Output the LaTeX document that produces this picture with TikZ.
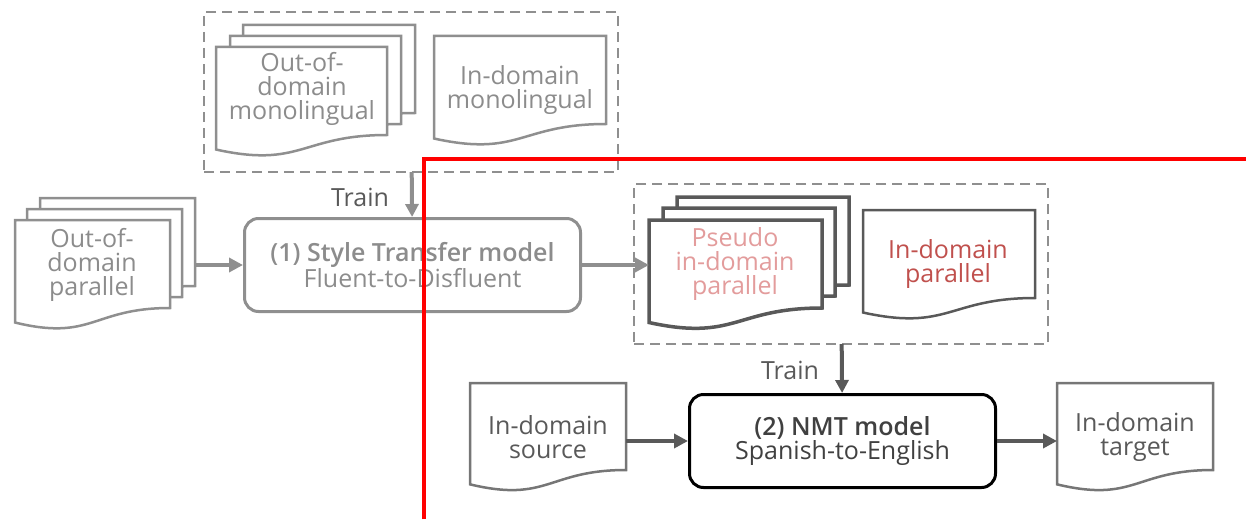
\documentclass[tikz,border=0pt]{standalone}
\usepackage{fontspec}
\setmainfont{Open Sans}[BoldFont={Open Sans Semibold}]
\usetikzlibrary{arrows.meta,calc}

\definecolor{lightln}{HTML}{8F8F8F}
\definecolor{lighttx}{HTML}{8C8C8C}
\definecolor{darkln}{HTML}{595959}
\definecolor{midln}{HTML}{767676}
\definecolor{pinktx}{HTML}{E39C9C}
\definecolor{redtx}{HTML}{C0504D}
\definecolor{bodytx}{HTML}{404040}

% document outline: flat top, wavy bottom below the node
\newcommand{\docoutline}[2]{%
  \draw[#1] (#2.north west) -- (#2.north east) -- (#2.south east)
    .. controls (#2.south) and ($(#2.south)!-0.38!(#2.north)$)
    .. ($(#2.south west)!-0.165!(#2.north west)$) -- cycle;}

\begin{document}
\begin{tikzpicture}[x=1pt,y=-1pt,
  docbox/.style={inner sep=0pt, outer sep=0pt, anchor=north west, minimum height=88pt},
  txt/.style={align=center, inner sep=0pt, font=\fontsize{25}{24}\selectfont},
  groupbox/.style={draw=lightln, line width=2.5pt, dash pattern=on 10pt off 6pt,
    inner sep=0pt, outer sep=0pt, anchor=north west},
  model/.style={rounded corners=14pt, line width=3pt, inner sep=0pt, outer sep=1.5pt,
    anchor=north west, align=center, font=\fontsize{25}{24}\selectfont},
  flow/.style={line width=4.5pt, -{Triangle[length=14pt,width=14pt]}},
  thinflow/.style={line width=4pt, -{Triangle[length=13pt,width=13pt]}}
]
\useasboundingbox (0,0) rectangle (1246,519);

% ---------- monolingual corpora ----------
\node[groupbox, minimum width=414pt, minimum height=160pt] (monobox) at (204,12) {};
\node[docbox, minimum width=172pt] (oodm3) at (243,25) {};
\node[docbox, minimum width=171pt] (oodm2) at (230,36) {};
\node[docbox, minimum width=171pt] (oodm1) at (216,47) {};
\docoutline{draw=lightln, line width=2.5pt, fill=white}{oodm3}
\docoutline{draw=lightln, line width=2.5pt, fill=white}{oodm2}
\docoutline{draw=lightln, line width=2.5pt, fill=white}{oodm1}
\node[txt, text=lighttx] (oodm-t) at (302,89) {Out-of-\\domain\\monolingual};

\node[docbox, minimum width=172pt] (idm) at (434,36) {};
\docoutline{draw=lightln, line width=2.5pt, fill=white}{idm}
\node[txt, text=lighttx] (idm-t) at (520,90) {In-domain\\monolingual};

% ---------- out-of-domain parallel corpus ----------
\node[docbox, minimum width=155pt] (oodp3) at (40,198) {};
\node[docbox, minimum width=155pt] (oodp2) at (27,209) {};
\node[docbox, minimum width=155pt] (oodp1) at (15,220) {};
\docoutline{draw=lightln, line width=2.5pt, fill=white}{oodp3}
\docoutline{draw=lightln, line width=2.5pt, fill=white}{oodp2}
\docoutline{draw=lightln, line width=2.5pt, fill=white}{oodp1}
\node[txt, text=lighttx] (oodp-t) at (92,265) {Out-of-\\domain\\parallel};

% ---------- style transfer model ----------
\node[model, draw=lightln, text=lighttx, minimum width=336pt, minimum height=93pt] (style) at (243,217)
  {{\bfseries (1) Style Transfer model}\\Fluent-to-Disfluent};
\draw[thinflow, draw=lightln, fill=lightln] (monobox) -- (style);
\node[txt, text=darkln] (train1) at (360,197) {Train};
\draw[flow, draw=lightln, fill=lightln] (oodp3.east |- style.west) -- (style.west);

% ---------- parallel training data ----------
\node[groupbox, minimum width=414pt, minimum height=160pt] (parbox) at (634,184) {};
\node[docbox, minimum width=172pt] (pseudo3) at (677,197) {};
\node[docbox, minimum width=172pt] (pseudo2) at (663,208) {};
\node[docbox, minimum width=173pt] (pseudo1) at (649,220) {};
\docoutline{draw=darkln, line width=3.5pt, fill=white}{pseudo3}
\docoutline{draw=darkln, line width=3.5pt, fill=white}{pseudo2}
\docoutline{draw=darkln, line width=3.5pt, fill=white}{pseudo1}
\node[txt, text=pinktx] (pseudo-t) at (735,264) {Pseudo\\in-domain\\parallel};

\node[docbox, minimum width=172pt] (idp) at (863,210) {};
\docoutline{draw=darkln, line width=2.5pt, fill=white}{idp}
\node[txt, text=redtx] (idp-t) at (948,264) {In-domain\\parallel};

\draw[flow, draw=lightln, fill=lightln] (style.east) -- (style.east -| pseudo1.west);

% ---------- NMT model ----------
\node[model, draw=black, text=bodytx, minimum width=306pt, minimum height=93pt] (nmt) at (688,393)
  {{\bfseries (2) NMT model}\\Spanish-to-English};
\draw[thinflow, draw=darkln, fill=darkln] (parbox) -- (nmt);
\node[txt, text=darkln] (train2) at (790,370) {Train};

\node[docbox, minimum width=156pt, minimum height=87pt] (src) at (470,383) {};
\docoutline{draw=midln, line width=2.5pt, fill=white}{src}
\node[txt, text=darkln] (src-t) at (548,437) {In-domain\\source};

\node[docbox, minimum width=156pt, minimum height=87pt] (tgt) at (1057,383) {};
\docoutline{draw=midln, line width=2.5pt, fill=white}{tgt}
\node[txt, text=darkln] (tgt-t) at (1135,437) {In-domain\\target};

\draw[flow, draw=darkln, fill=darkln] (src.east |- nmt.west) -- (nmt.west);
\draw[flow, draw=darkln, fill=darkln] (nmt.east) -- (nmt.east -| tgt.west);

% ---------- red divider ----------
\draw[red, line width=4pt] (424,519) -- (424,159) -- (1246,159);
\end{tikzpicture}
\end{document}
